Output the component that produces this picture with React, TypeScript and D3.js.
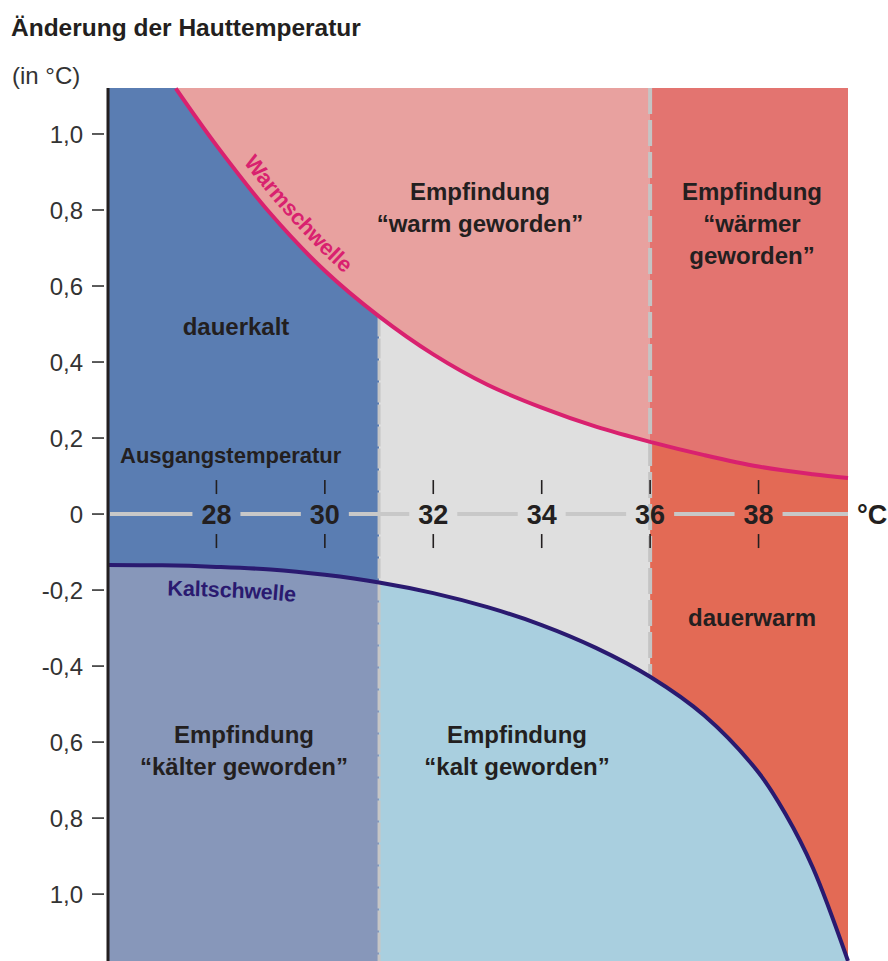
import React, { useEffect, useRef } from 'react';
import * as d3 from 'd3';

interface Pt {
  t: number;
  v: number;
}

// Warmschwelle: temperature (°C) -> change of skin temperature (°C)
const warmT = [27.25, 28, 29, 30, 31, 32, 33, 34, 35, 36, 37, 38, 39, 39.65];
const warmV = [1.12, 0.97, 0.79, 0.64, 0.52, 0.42, 0.34, 0.28, 0.23, 0.19, 0.155, 0.125, 0.105, 0.095];

// Kaltschwelle
const coldT = [26, 27, 28, 29, 30, 31, 32, 33, 34, 35, 36, 37, 38, 38.5, 39, 39.65];
const coldV = [-0.134, -0.135, -0.139, -0.146, -0.16, -0.18, -0.208, -0.245, -0.292, -0.352, -0.428, -0.53, -0.68, -0.79, -0.93, -1.176];

const tempTicks = [28, 30, 32, 34, 36, 38];
const yTicks = [1.0, 0.8, 0.6, 0.4, 0.2, 0, -0.2, -0.4, -0.6, -0.8, -1.0];
const yTickLabels = ['1,0', '0,8', '0,6', '0,4', '0,2', '0', '-0,2', '-0,4', '0,6', '0,8', '1,0'];

// column borders (°C)
const borders = [26, 31, 36, 39.65];

const App: React.FC = () => {
  const svgRef = useRef<SVGSVGElement | null>(null);

  useEffect(() => {
    const W = 888;
    const H = 961;
    const top = 88;
    const yMin = -1.176;
    const yMax = 1.121;

    const svg = d3.select(svgRef.current)
      .attr('width', W)
      .attr('height', H)
      .style('background-color', 'white');
    svg.selectAll('*').remove();

    const x = d3.scaleLinear().domain([26, 39.65]).range([108, 848]);
    const y = d3.scaleLinear().domain([yMin, yMax]).range([H, top]);

    const warm: Pt[] = warmT.map((t, i) => ({ t, v: warmV[i] }));
    const cold: Pt[] = coldT.map((t, i) => ({ t, v: coldV[i] }));
    const valueAt = (arr: Pt[], t: number) => arr.find(d => d.t === t)!.v;

    const font = "'Liberation Sans', Arial, sans-serif";
    const ink = '#231f20';

    const baseColors = ['#5a7db2', '#dfdfdf', '#e36a55'];
    const aboveColors = ['#e8a19f', '#e8a19f', '#e37470'];
    const belowColors = ['#8797ba', '#a9cfdf', '#a9cfdf'];

    const curve = d3.curveCatmullRom.alpha(0.5);
    const defs = svg.append('defs');
    const areaAbove = d3.area<Pt>()
      .x(d => x(d.t))
      .y0(y(yMax))
      .y1(d => y(d.v))
      .curve(curve);
    const areaBelow = d3.area<Pt>()
      .x(d => x(d.t))
      .y0(y(yMin))
      .y1(d => y(d.v))
      .curve(curve);
    const line = d3.line<Pt>()
      .x(d => x(d.t))
      .y(d => y(d.v))
      .curve(curve);

    for (let i = 0; i < 3; i++) {
      const x0 = x(borders[i]);
      const x1 = x(borders[i + 1]);
      defs.append('clipPath').attr('id', `col${i}`)
        .append('rect')
        .attr('x', x0).attr('y', y(yMax))
        .attr('width', x1 - x0).attr('height', y(yMin) - y(yMax));

      const g = svg.append('g').attr('clip-path', `url(#col${i})`);
      g.append('rect')
        .attr('x', x0).attr('y', y(yMax))
        .attr('width', x1 - x0).attr('height', y(yMin) - y(yMax))
        .attr('fill', baseColors[i]);
      g.append('path').datum(warm).attr('d', areaAbove).attr('fill', aboveColors[i]);
      g.append('path').datum(cold).attr('d', areaBelow).attr('fill', belowColors[i]);
    }

    // dashed borders
    svg.append('line')
      .attr('x1', x(31)).attr('x2', x(31))
      .attr('y1', y(valueAt(warm, 31))).attr('y2', y(yMin))
      .attr('stroke', '#c6c6c6').attr('stroke-width', 3)
      .attr('stroke-dasharray', '20,2');
    svg.append('line')
      .attr('x1', x(36)).attr('x2', x(36))
      .attr('y1', y(yMax)).attr('y2', y(valueAt(cold, 36)))
      .attr('stroke', '#c4c4c4').attr('stroke-width', 4)
      .attr('stroke-dasharray', '26,6');

    // zero line with gaps for the temperature labels
    const gap = 24;
    const stops = [26, ...tempTicks, 39.65];
    for (let i = 0; i < stops.length - 1; i++) {
      const a = i === 0 ? x(stops[i]) + 2 : x(stops[i]) + gap;
      const b = i === stops.length - 2 ? x(stops[i + 1]) : x(stops[i + 1]) - gap;
      svg.append('line')
        .attr('x1', a).attr('x2', b)
        .attr('y1', y(0)).attr('y2', y(0))
        .attr('stroke', '#c8c8c8').attr('stroke-width', 4);
    }

    // threshold curves
    svg.append('path').datum(warm).attr('id', 'warmPath')
      .attr('d', line).attr('fill', 'none')
      .attr('stroke', '#d9216f').attr('stroke-width', 4);
    svg.append('path').datum(cold).attr('id', 'coldPath')
      .attr('d', line).attr('fill', 'none')
      .attr('stroke', '#2a1a70').attr('stroke-width', 4);

    // temperature ticks and labels
    tempTicks.forEach(t => {
      svg.append('line')
        .attr('x1', x(t)).attr('x2', x(t))
        .attr('y1', y(0) - 34).attr('y2', y(0) - 20)
        .attr('stroke', ink).attr('stroke-width', 1.6);
      svg.append('line')
        .attr('x1', x(t)).attr('x2', x(t))
        .attr('y1', y(0) + 20).attr('y2', y(0) + 34)
        .attr('stroke', ink).attr('stroke-width', 1.6);
      svg.append('text')
        .attr('x', x(t)).attr('y', y(0))
        .attr('dy', '0.36em')
        .attr('text-anchor', 'middle')
        .style('font-family', font).style('font-weight', 'bold').style('font-size', '27px')
        .attr('fill', ink)
        .text(String(t));
    });
    svg.append('text')
      .attr('x', 857).attr('y', y(0)).attr('dy', '0.36em')
      .style('font-family', font).style('font-weight', 'bold').style('font-size', '27px')
      .attr('fill', ink)
      .text('°C');

    // y axis
    svg.append('line')
      .attr('x1', 108).attr('x2', 108)
      .attr('y1', top).attr('y2', H)
      .attr('stroke', ink).attr('stroke-width', 3);
    yTicks.forEach((v, i) => {
      svg.append('line')
        .attr('x1', 92).attr('x2', 104)
        .attr('y1', y(v)).attr('y2', y(v))
        .attr('stroke', '#333').attr('stroke-width', 1.6);
      svg.append('text')
        .attr('x', 83).attr('y', y(v)).attr('dy', '0.36em')
        .attr('text-anchor', 'end')
        .style('font-family', font).style('font-size', '24px')
        .attr('fill', '#333')
        .text(yTickLabels[i]);
    });

    svg.append('text')
      .attr('x', 11).attr('y', 36)
      .style('font-family', font).style('font-weight', 'bold').style('font-size', '24.5px')
      .attr('fill', ink)
      .text('Änderung der Hauttemperatur');
    svg.append('text')
      .attr('x', 12).attr('y', 84)
      .style('font-family', font).style('font-size', '24px')
      .attr('fill', '#333')
      .text('(in °C)');

    // region labels
    const block = (cx: number, y0: number, lines: string[], size = 24) => {
      lines.forEach((s, i) => {
        svg.append('text')
          .attr('x', cx).attr('y', y0 + i * 32)
          .attr('text-anchor', 'middle')
          .style('font-family', font).style('font-weight', 'bold').style('font-size', `${size}px`)
          .attr('fill', ink)
          .text(s);
      });
    };
    block(480, 200, ['Empfindung', '\u201Cwarm geworden\u201D']);
    block(752, 200, ['Empfindung', '\u201Cwärmer', 'geworden\u201D']);
    block(236, 335, ['dauerkalt']);
    block(752, 626, ['dauerwarm']);
    block(244, 743, ['Empfindung', '\u201Ckälter geworden\u201D']);
    block(517, 743, ['Empfindung', '\u201Ckalt geworden\u201D']);

    svg.append('text')
      .attr('x', 120).attr('y', 463)
      .style('font-family', font).style('font-weight', 'bold').style('font-size', '22px')
      .attr('fill', ink)
      .text('Ausgangstemperatur');

    // curve labels follow the curves
    svg.append('text')
      .attr('dy', -11)
      .style('font-family', font).style('font-weight', 'bold').style('font-size', '22px')
      .attr('fill', '#d9216f')
      .append('textPath')
      .attr('href', '#warmPath')
      .attr('startOffset', 100)
      .text('Warmschwelle');
    svg.append('text')
      .attr('dy', 30)
      .style('font-family', font).style('font-weight', 'bold').style('font-size', '21.5px')
      .attr('fill', '#2a1a70')
      .append('textPath')
      .attr('href', '#coldPath')
      .attr('startOffset', 60)
      .text('Kaltschwelle');
  }, []);

  return (
    <div style={{ position: 'absolute', left: 0, top: 0 }}>
      <svg ref={svgRef} style={{ display: 'block' }}></svg>
    </div>
  );
};

export default App;
